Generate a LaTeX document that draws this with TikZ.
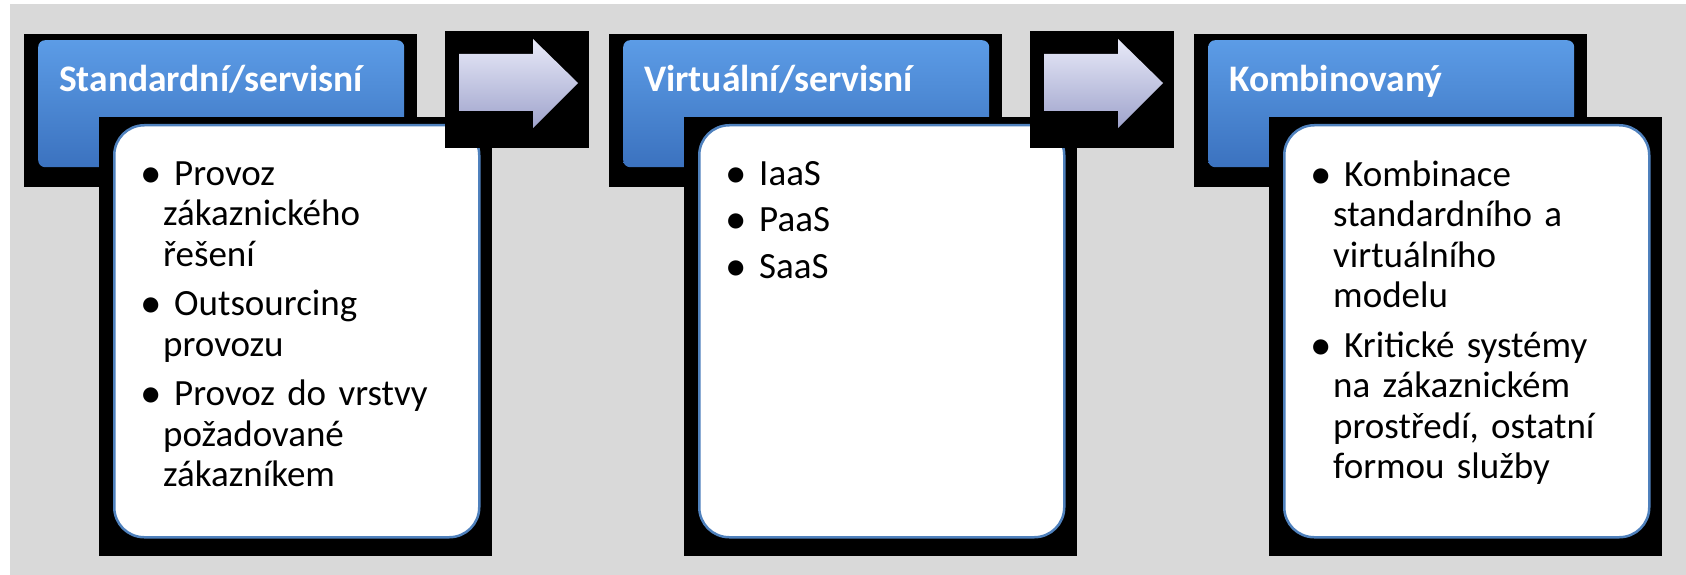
\documentclass[tikz,border=0pt]{standalone}
\usepackage{fontspec}
\setmainfont{Carlito}
\usepackage{tikz}
\usetikzlibrary{positioning}

\definecolor{bggray}{HTML}{D9D9D9}
\definecolor{rimblue}{HTML}{4F81BD}
\definecolor{headtop}{HTML}{5C9CE6}
\definecolor{headbottom}{HTML}{3B72BF}
\definecolor{arrowtop}{HTML}{E8EAF8}
\definecolor{arrowmid}{HTML}{C2C6E4}
\definecolor{arrowbottom}{HTML}{9FA3CC}

\newcommand{\bul}{\hspace*{-24pt}\makebox[35pt][l]{\hspace{1pt}\raisebox{-2pt}{\fontsize{43}{43}\selectfont\textbullet}}}

\begin{document}
\begin{tikzpicture}[
x=1pt, y=-1pt,
headbox/.style={rectangle, rounded corners=7pt, draw=none, top color=headtop, bottom color=headbottom, minimum width=366pt, minimum height=127pt, anchor=north west, inner sep=0pt},
headtext/.style={text=white, font=\fontsize{37.5}{44}\selectfont\bfseries, anchor=base west, inner sep=0pt},
bodybox/.style={rectangle, rounded corners=30pt, draw=rimblue, line width=2.5pt, fill=white, minimum width=365pt, minimum height=412pt, anchor=north west, inner sep=0pt},
bodytext/.style={font=\fontsize{37}{40.5}\selectfont, align=left, text width=300pt, anchor=north west, inner sep=0pt},
blackpad/.style={fill=black},
arrowshape/.style={top color=arrowtop, middle color=arrowmid, bottom color=arrowbottom, draw=none},
]
\useasboundingbox (0,0) rectangle (1686,575);

% Gray background
\fill[bggray] (10,4) rectangle (1686,575);

% Standard / service model
\fill[blackpad] (24,34) rectangle (417,187);
\node[headbox] (headstd) at (38,40) {};
\node[headtext] (titlestd) at (59,92) {Standardní/servisní};
\fill[blackpad] (99,117) rectangle (492,556);
\node[bodybox] (bodystd) at (113,124) {};
\node[bodytext] (liststd) at (163,155) {\rule{0pt}{30pt}\bul Provoz\\ zákaznického\\ řešení\\[9pt]
\bul Outsourcing\\ provozu\\[9pt]
\bul Provoz do vrstvy\\ požadované\\ zákazníkem};

% Arrow to the virtual model
\fill[blackpad] (445,31) rectangle (589,148);
\shade[arrowshape] (459,54) -- (533,54) -- (533,39) -- (578,83) -- (533,128) -- (533,111) -- (459,111) -- cycle;

% Virtual / service model
\fill[blackpad] (609,34) rectangle (1002,187);
\node[headbox] (headvirt) at (623,40) {};
\node[headtext] (titlevirt) at (644,92) {Virtuální/servisní};
\fill[blackpad] (684,117) rectangle (1077,556);
\node[bodybox] (bodyvirt) at (698,124) {};
\node[bodytext] (listvirt) at (748,155) {\rule{0pt}{30pt}\bul IaaS\\[6pt]
\bul PaaS\\[6pt]
\bul SaaS};

% Arrow to the combined model
\fill[blackpad] (1030,31) rectangle (1174,148);
\shade[arrowshape] (1044,54) -- (1118,54) -- (1118,39) -- (1163,83) -- (1118,128) -- (1118,111) -- (1044,111) -- cycle;

% Combined model
\fill[blackpad] (1194,34) rectangle (1587,187);
\node[headbox] (headcomb) at (1208,40) {};
\node[headtext] (titlecomb) at (1229,92) {Kombinovaný};
\fill[blackpad] (1269,117) rectangle (1662,556);
\node[bodybox] (bodycomb) at (1283,124) {};
\node[bodytext] (listcomb) at (1333,156) {\rule{0pt}{30pt}\bul Kombinace\\ standardního a\\ virtuálního\\ modelu\\[9pt]
\bul Kritické systémy\\ na zákaznickém\\ prostředí, ostatní\\ formou služby};
\end{tikzpicture}
\end{document}
